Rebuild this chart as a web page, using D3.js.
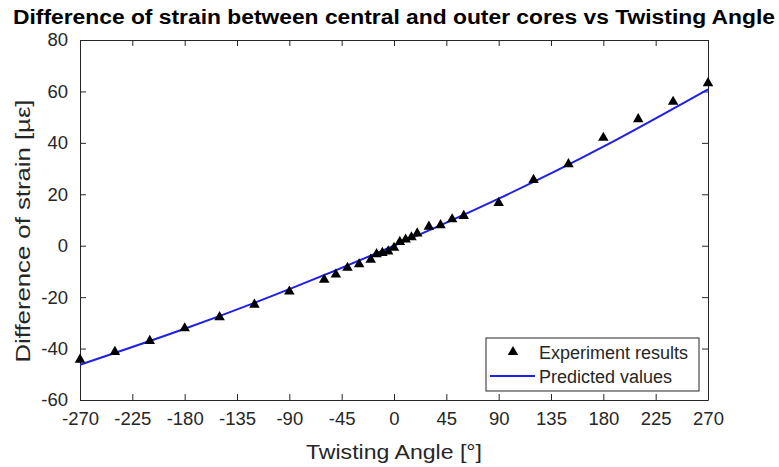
<!DOCTYPE html>
<html>
<head>
<meta charset="utf-8">
<script src="https://cdn.jsdelivr.net/npm/d3@7"></script>
<style>
  body { margin: 0; background: #fff; }
  svg { display: block; font-family: "Liberation Sans", Arial, sans-serif; }
</style>
</head>
<body>
<div id="chart"></div>
<script>
// ---- data ----
const expAngles = [-270, -240, -210, -180, -150, -120, -90, -60, -50, -40, -30, -20, -15, -10, -5, 0, 5, 10, 15, 20, 30, 40, 50, 60, 90, 120, 150, 180, 210, 240, 270];
const expStrain = [-44.3, -41.3, -37, -32.1, -27.8, -22.9, -17.8, -13.2, -11.2, -8.6, -7.2, -5.4, -3.3, -2.8, -2.2, -0.8, 1.5, 2.4, 3.3, 4.8, 7.4, 8, 10.3, 11.6, 16.6, 25.6, 31.7, 42, 49.2, 56, 63.2];

const predAngles = [-270, -180, -90, 0, 90, 180, 270];
const predStrain = [-46.3, -32.3, -16.9, 0, 18.3, 38.5, 60.8];

const xTicks = [-270, -225, -180, -135, -90, -45, 0, 45, 90, 135, 180, 225, 270];
const yTicks = [-60, -40, -20, 0, 20, 40, 60, 80];

const titleText = "Difference of strain between central and outer cores vs Twisting Angle";
const xLabel = "Twisting Angle [°]";
const yLabel = "Difference of strain [µε]";
const legendLabels = ["Experiment results", "Predicted values"];

// ---- layout ----
const W = 779, H = 467;
const plot = { left: 80, top: 40, right: 708, bottom: 400 };
const axisColor = "#262626";
const lineColor = "#1f1fe6";

const svg = d3.select("#chart").append("svg")
  .attr("width", W).attr("height", H);

const x = d3.scaleLinear().domain([-270, 270]).range([plot.left, plot.right]);
const y = d3.scaleLinear().domain([-60, 80]).range([plot.bottom, plot.top]);

// plain hyphen minus, like the original
const fmt = d => String(d);

const tickLen = 6;
function styleAxis(g) {
  g.selectAll("path").attr("stroke", axisColor);
  g.selectAll("line").attr("stroke", axisColor);
  g.selectAll("text").attr("fill", axisColor).style("font-size", "18.5px");
}

// four sides, ticks pointing inward
svg.append("g")
  .attr("transform", `translate(0,${plot.bottom})`)
  .call(d3.axisBottom(x).tickValues(xTicks).tickFormat(fmt).tickSizeInner(-tickLen).tickSizeOuter(0).tickPadding(12))
  .call(styleAxis);
svg.append("g")
  .attr("transform", `translate(0,${plot.top})`)
  .call(d3.axisTop(x).tickValues(xTicks).tickSizeInner(-tickLen).tickSizeOuter(0).tickFormat(""))
  .call(styleAxis);
svg.append("g")
  .attr("transform", `translate(${plot.left},0)`)
  .call(d3.axisLeft(y).tickValues(yTicks).tickFormat(fmt).tickSizeInner(-tickLen).tickSizeOuter(0).tickPadding(12))
  .call(styleAxis);
svg.append("g")
  .attr("transform", `translate(${plot.right},0)`)
  .call(d3.axisRight(y).tickValues(yTicks).tickSizeInner(-tickLen).tickSizeOuter(0).tickFormat(""))
  .call(styleAxis);

// predicted curve
const line = d3.line()
  .x((d, i) => x(predAngles[i]))
  .y(d => y(d))
  .curve(d3.curveNatural);

svg.append("path")
  .datum(predStrain)
  .attr("d", line)
  .attr("fill", "none")
  .attr("stroke", lineColor)
  .attr("stroke-width", 2);

// experiment triangles
const tri = d3.symbol().type(d3.symbolTriangle).size(48);
svg.append("g").selectAll("path")
  .data(expStrain)
  .join("path")
  .attr("d", tri)
  .attr("transform", (d, i) => `translate(${x(expAngles[i])},${y(d)})`)
  .attr("fill", "#000");

// title
svg.append("text")
  .attr("x", 394).attr("y", 24)
  .attr("text-anchor", "middle")
  .attr("textLength", 762).attr("lengthAdjust", "spacingAndGlyphs")
  .style("font-weight", "bold").style("font-size", "20px")
  .attr("fill", "#000")
  .text(titleText);

// axis labels
svg.append("text")
  .attr("x", (plot.left + plot.right) / 2).attr("y", 459)
  .attr("text-anchor", "middle")
  .attr("textLength", 176).attr("lengthAdjust", "spacingAndGlyphs")
  .style("font-size", "21px").attr("fill", axisColor)
  .text(xLabel);

svg.append("text")
  .attr("transform", "translate(30,231) rotate(-90)")
  .attr("text-anchor", "middle")
  .attr("textLength", 263).attr("lengthAdjust", "spacingAndGlyphs")
  .style("font-size", "21px").attr("fill", axisColor)
  .text(yLabel);

// legend
const leg = svg.append("g");
leg.append("rect")
  .attr("x", 486).attr("y", 338).attr("width", 213).attr("height", 53)
  .attr("fill", "#fff").attr("stroke", axisColor).attr("stroke-width", 1);
leg.append("path")
  .attr("d", tri)
  .attr("transform", "translate(513,352)")
  .attr("fill", "#000");
leg.append("line")
  .attr("x1", 490).attr("x2", 535).attr("y1", 376).attr("y2", 376)
  .attr("stroke", lineColor).attr("stroke-width", 2);
leg.selectAll("text.lab")
  .data(legendLabels)
  .join("text")
  .attr("class", "lab")
  .attr("x", 539)
  .attr("y", (d, i) => 359 + i * 24)
  .style("font-size", "18px").attr("fill", axisColor)
  .text(d => d);
</script>
</body>
</html>
